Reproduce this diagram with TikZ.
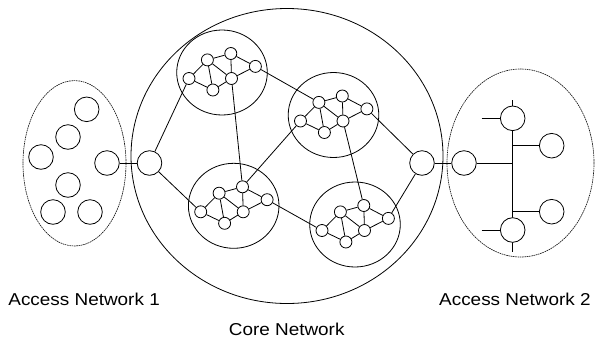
\documentclass[tikz,border=0pt]{standalone}
\usepackage{fontspec}
\setmainfont{Liberation Sans}
\begin{document}
\begin{tikzpicture}[x=1pt,y=-1pt,line width=0.8pt,
  host/.style={circle,draw,fill=white,inner sep=0pt,minimum size=24.6pt},
  router/.style={circle,draw,fill=white,inner sep=0pt,minimum size=12pt},
  zone/.style={draw,dash pattern=on 1.6pt off 0.7pt,line width=0.65pt,black!90},
  label/.style={inner sep=0pt,font=\fontsize{17.2}{20}\selectfont},
  subnet/.pic={
    \draw (0,0) ellipse [x radius=45.3, y radius=42.5];
    \node[router] (-n1) at (-33,6) {};
    \node[router] (-n2) at (-14.6,-12.6) {};
    \node[router] (-n3) at (8.8,-19) {};
    \node[router] (-n4) at (33.4,-6.1) {};
    \node[router] (-n5) at (9.5,6) {};
    \node[router] (-n6) at (-9.1,17.5) {};
    \draw (-n1) -- (-n2) (-n1) -- (-n6) (-n2) -- (-n3) (-n2) -- (-n6)
          (-n2) -- (-n5) (-n3) -- (-n5) (-n3) -- (-n4) (-n4) -- (-n5)
          (-n5) -- (-n6);
  }]
\useasboundingbox (0,0) rectangle (595,341);

% network boundaries
\draw (287,156) ellipse [x radius=156, y radius=147.5];
\draw[zone] (74.5,163.3) ellipse [x radius=51.5, y radius=82.7];
\draw[zone] (520.5,163) ellipse [x radius=73.5, y radius=94];

% core sub-networks
\pic (A) at (222,72.5) {subnet};
\pic (B) at (333.5,115) {subnet};
\pic (C) at (233.7,205.8) {subnet};
\pic (D) at (355,224.5) {subnet};

% access network 1 hosts
\node[host] (h1) at (86.7,109.3) {};
\node[host] (h2) at (68,137) {};
\node[host] (h3) at (41,157) {};
\node[host] (h4) at (68,185) {};
\node[host] (h5) at (53,212) {};
\node[host] (h6) at (90,212) {};
\node[host] (ga1) at (107,163) {};

% core gateways
\node[host] (gc1) at (149.5,163) {};
\node[host] (gc2) at (422,163) {};

% access network 2 (bus)
\node[host] (ga2) at (464,163) {};
\coordinate (bt) at (512.7,100);
\coordinate (bb) at (512.7,251.7);
\coordinate (bg) at (512.7,163);
\coordinate (br1) at (512.7,145.7);
\coordinate (br2) at (512.7,211.7);
\coordinate (st) at (481.7,118.3);
\coordinate (sb) at (481.7,230);
\draw (bt) -- (bb);
\node[host] (bh1) at (512.7,118.3) {};
\node[host] (bh2) at (512.7,230) {};
\node[host] (bh3) at (551.7,145.7) {};
\node[host] (bh4) at (551.7,211.7) {};
\draw (ga2) -- (bg);
\draw (st) -- (bh1);
\draw (sb) -- (bh2);
\draw (br1) -- (bh3);
\draw (br2) -- (bh4);

% links
\draw (ga1) -- (gc1);
\draw (gc2) -- (ga2);
\draw (gc1) -- (A-n1);
\draw (gc1) -- (C-n1);
\draw (A-n5) -- (C-n3);
\draw (A-n4) -- (B-n2);
\draw (C-n3) -- (B-n1);
\draw (C-n4) -- (D-n1);
\draw (B-n5) -- (D-n3);
\draw (B-n4) -- (gc2);
\draw (D-n4) -- (gc2);

% labels
\node[label,anchor=base west] (l1) at (8,305) {\scalebox{1.1}[1]{Access Network 1}};
\node[label,anchor=base] (l2) at (286.7,335.7) {\scalebox{1.1}[1]{Core Network}};
\node[label,anchor=base east] (l3) at (591,305) {\scalebox{1.1}[1]{Access Network 2}};
\end{tikzpicture}
\end{document}
